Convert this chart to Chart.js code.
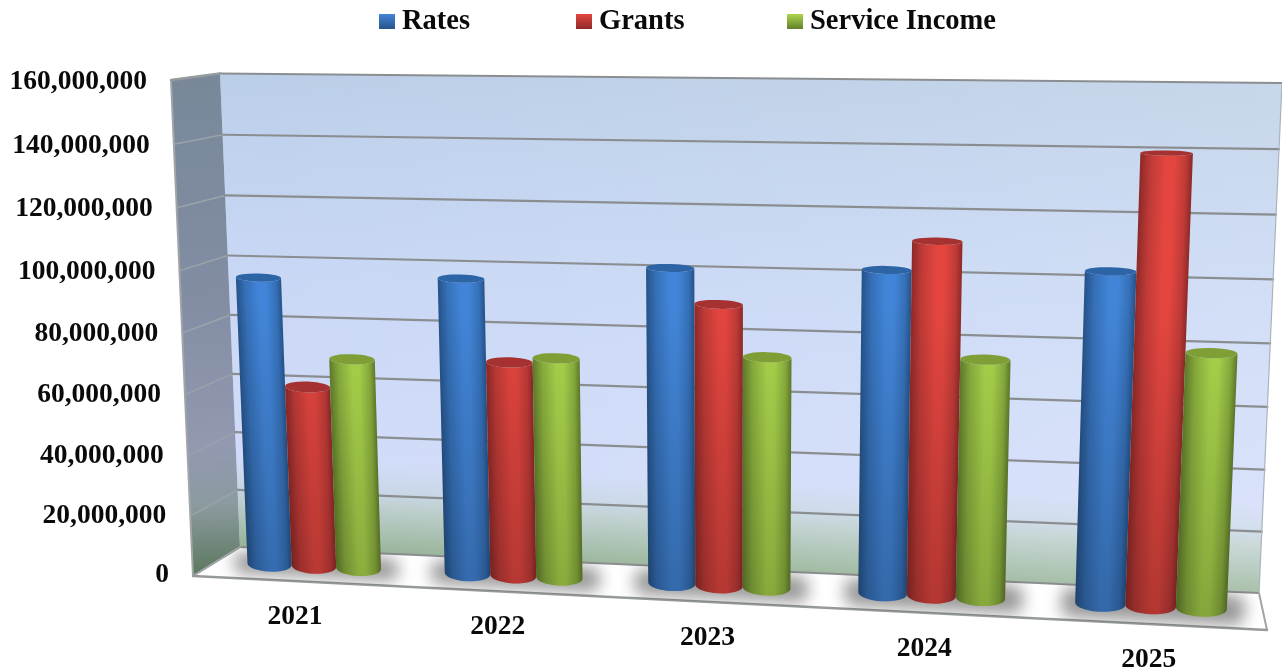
<!DOCTYPE html>
<html>
<head>
<meta charset="utf-8">
<style>
  html, body { margin: 0; padding: 0; background: #fff; }
  canvas { display: block; }
</style>
<script src="https://cdn.jsdelivr.net/npm/chart.js@4"></script>
</head>
<body>
<canvas id="chart" width="1282" height="670"></canvas>
<script>
const years = ['2021', '2022', '2023', '2024', '2025'];
const rates = [95700000, 97000000, 102000000, 103000000, 104200000];
const grants = [60200000, 70400000, 90900000, 112200000, 140100000];
const serviceIncome = [69800000, 72200000, 74600000, 75900000, 80000000];
const tickStep = 20000000;
const axisMax = 160000000;

// [edge, mid, bright, cap]
const bluePalette = ['#265389', '#3570b8', '#4285d8', '#2d64a6'];
const redPalette = ['#8f2a28', '#bf3a37', '#e4463f', '#a53230'];
const greenPalette = ['#637f2c', '#8bb03e', '#abd64c', '#7f9f36'];

const FONT = '"Liberation Serif", "DejaVu Serif", serif';

// the picture's 3D box, as corners [topLeft, topRight, bottomRight, bottomLeft]
const backQuad = [[220, 73.5], [1282, 83], [1259, 593], [240, 547]];
const frontQuad = [[171, 80], [1291, 91], [1267, 630], [193, 576]];
const barQuad = backQuad.map((p, i) => [(p[0] + frontQuad[i][0]) / 2, (p[1] + frontQuad[i][1]) / 2]);

// unit square -> quad, s goes left to right and t goes bottom to top
function quadMap(q) {
  const [x0, y0] = q[0], [x1, y1] = q[1], [x2, y2] = q[2], [x3, y3] = q[3];
  const dx1 = x1 - x2, dx2 = x3 - x2, sx = x0 - x1 + x2 - x3;
  const dy1 = y1 - y2, dy2 = y3 - y2, sy = y0 - y1 + y2 - y3;
  const det = dx1 * dy2 - dx2 * dy1;
  const g = (sx * dy2 - dx2 * sy) / det;
  const h = (dx1 * sy - sx * dy1) / det;
  const a = x1 - x0 + g * x1, b = x3 - x0 + h * x3;
  const d = y1 - y0 + g * y1, e = y3 - y0 + h * y3;
  return function (s, t) {
    const u = s, v = 1 - t;
    const w = g * u + h * v + 1;
    return [(a * u + b * v + x0) / w, (d * u + e * v + y0) / w];
  };
}

const onBack = quadMap(backQuad);
const onFront = quadMap(frontQuad);
const onBars = quadMap(barQuad);

function polygon(ctx, pts) {
  ctx.beginPath();
  pts.forEach((p, i) => (i ? ctx.lineTo(p[0], p[1]) : ctx.moveTo(p[0], p[1])));
  ctx.closePath();
}

function line(ctx, a, b) {
  ctx.beginPath();
  ctx.moveTo(a[0], a[1]);
  ctx.lineTo(b[0], b[1]);
  ctx.stroke();
}

function drawWalls(ctx, tickFractions) {
  const bl = backQuad[3], br = backQuad[2], tl = backQuad[0], tr = backQuad[1];
  const fl = frontQuad[3], fr = frontQuad[2], ftl = frontQuad[0];

  // back wall
  let grad = ctx.createLinearGradient(760, 78, 738, 572);
  grad.addColorStop(0, '#bacde6');
  grad.addColorStop(0.22, '#c1d3ef');
  grad.addColorStop(0.5, '#cad8f6');
  grad.addColorStop(0.815, '#d0dbf9');
  grad.addColorStop(0.87, '#c8d6e6');
  grad.addColorStop(0.9, '#bdcfcf');
  grad.addColorStop(1, '#93b193');
  ctx.fillStyle = grad;
  polygon(ctx, [tl, tr, br, bl]);
  ctx.fill();

  // right side of the wall is a little paler
  grad = ctx.createLinearGradient(240, 0, 1282, 0);
  grad.addColorStop(0, 'rgba(255,255,255,0)');
  grad.addColorStop(1, 'rgba(255,255,255,0.2)');
  ctx.fillStyle = grad;
  polygon(ctx, [tl, tr, br, bl]);
  ctx.fill();

  // left wall
  grad = ctx.createLinearGradient(200, 76, 218, 570);
  grad.addColorStop(0, '#788899');
  grad.addColorStop(0.45, '#828da3');
  grad.addColorStop(0.75, '#9299b1');
  grad.addColorStop(0.87, '#8b9a9f');
  grad.addColorStop(1, '#5f7a62');
  ctx.fillStyle = grad;
  polygon(ctx, [ftl, tl, bl, fl]);
  ctx.fill();

  // floor
  ctx.fillStyle = '#fff';
  polygon(ctx, [bl, br, fr, fl]);
  ctx.fill();

  // grid lines on both walls
  ctx.lineCap = 'round';
  tickFractions.forEach(t => {
    const back0 = onBack(0, t), back1 = onBack(1, t), front0 = onFront(0, t);
    ctx.strokeStyle = '#9aa3aa';
    ctx.lineWidth = 1.5;
    line(ctx, front0, back0);
    ctx.strokeStyle = '#8b8e90';
    ctx.lineWidth = 2.2;
    line(ctx, back0, back1);
  });

  // outline
  ctx.strokeStyle = '#a2a5a8';
  ctx.lineWidth = 2;
  line(ctx, ftl, fl);
  line(ctx, bl, fl);
  line(ctx, br, fr);
  ctx.strokeStyle = '#aab3bd';
  ctx.lineWidth = 1.2;
  line(ctx, tr, br);
  ctx.strokeStyle = '#969a9c';
  ctx.lineWidth = 2.4;
  line(ctx, fl, fr);
  line(ctx, ftl, tl);
}

function drawFloorShadows(ctx, chart, toUnit) {
  const first = chart.getDatasetMeta(0).data;
  const last = chart.getDatasetMeta(2).data;
  ctx.save();
  polygon(ctx, [backQuad[3], backQuad[2], frontQuad[2], frontQuad[3]]);
  ctx.clip();
  ctx.filter = 'blur(8px)';
  ctx.fillStyle = 'rgba(50,50,50,0.5)';
  first.forEach((el, i) => {
    const a = toUnit(el.x - el.width / 2, el.base);
    const b = toUnit(last[i].x + last[i].width / 2, el.base);
    const p0 = onBars(a[0], 0), p1 = onBars(b[0], 0);
    const halfW = (p1[0] - p0[0]) / 2 + 16;
    const halfH = 11 + 5 * a[0];
    ctx.save();
    ctx.translate((p0[0] + p1[0]) / 2 + 2, (p0[1] + p1[1]) / 2);
    ctx.rotate(Math.atan2(p1[1] - p0[1], p1[0] - p0[0]));
    ctx.beginPath();
    ctx.roundRect(-halfW, -halfH, halfW * 2, halfH * 2, 10);
    ctx.fill();
    ctx.restore();
  });
  ctx.restore();
}

function capHeight(y) {
  return 2 + Math.max(0, y - 100) * 0.012;
}

function drawCylinder(ctx, el, palette, toUnit) {
  const left = toUnit(el.x - el.width / 2, el.y);
  const right = toUnit(el.x + el.width / 2, el.y);
  const lt = onBars(left[0], left[1]), rt = onBars(right[0], left[1]);
  const lb = onBars(left[0], 0), rb = onBars(right[0], 0);
  const top = [(lt[0] + rt[0]) / 2, (lt[1] + rt[1]) / 2];
  const bot = [(lb[0] + rb[0]) / 2, (lb[1] + rb[1]) / 2];
  const topR = Math.hypot(rt[0] - lt[0], rt[1] - lt[1]) / 2;
  const botR = Math.hypot(rb[0] - lb[0], rb[1] - lb[1]) / 2;
  const topRot = Math.atan2(rt[1] - lt[1], rt[0] - lt[0]);
  const botRot = Math.atan2(rb[1] - lb[1], rb[0] - lb[0]);

  const body = () => {
    ctx.beginPath();
    ctx.moveTo(lt[0], lt[1]);
    ctx.lineTo(lb[0], lb[1]);
    ctx.ellipse(bot[0], bot[1], botR, capHeight(bot[1]), botRot, Math.PI, 0, true);
    ctx.lineTo(rt[0], rt[1]);
    ctx.ellipse(top[0], top[1], topR, capHeight(top[1]), topRot, 0, Math.PI, false);
    ctx.closePath();
  };

  // shading runs across the leaning axis of the cylinder
  const ax = top[0] - bot[0], ay = top[1] - bot[1];
  const len = Math.hypot(ax, ay);
  const px = -ay / len, py = ax / len;
  const mx = (lt[0] + lb[0]) / 2, my = (lt[1] + lb[1]) / 2;
  const w = topR + botR;
  const grad = ctx.createLinearGradient(mx, my, mx + px * w, my + py * w);
  grad.addColorStop(0, palette[0]);
  grad.addColorStop(0.2, palette[1]);
  grad.addColorStop(0.5, palette[2]);
  grad.addColorStop(0.65, palette[2]);
  grad.addColorStop(0.88, palette[1]);
  grad.addColorStop(1, palette[0]);
  body();
  ctx.fillStyle = grad;
  ctx.fill();

  // everything gets darker toward the floor
  const dark = ctx.createLinearGradient(0, 300, 0, 610);
  dark.addColorStop(0, 'rgba(0,0,0,0)');
  dark.addColorStop(1, 'rgba(0,0,0,0.22)');
  body();
  ctx.fillStyle = dark;
  ctx.fill();

  ctx.beginPath();
  ctx.ellipse(top[0], top[1], topR, capHeight(top[1]), topRot, 0, Math.PI * 2);
  ctx.fillStyle = palette[3];
  ctx.fill();
}

function drawText(ctx, chart, toUnit) {
  ctx.fillStyle = '#0a0a0a';
  ctx.font = 'bold 27.5px ' + FONT;

  // value axis follows the front edge of the left wall
  const yScale = chart.scales.y;
  ctx.textAlign = 'right';
  ctx.textBaseline = 'middle';
  yScale.ticks.forEach((tick, i) => {
    const t = toUnit(0, yScale.getPixelForTick(i))[1];
    const p = onFront(0, t);
    ctx.fillText(tick.value.toLocaleString('en-US'), p[0] - 24, p[1] - 1 + 3 * t);
  });

  // year labels hang under the front edge of the floor
  const xScale = chart.scales.x;
  ctx.textAlign = 'center';
  years.forEach((year, i) => {
    const s = toUnit(xScale.getPixelForTick(i), 0)[0];
    const p = onFront(s, 0);
    ctx.fillText(year, p[0] + 3 - 6 * s, p[1] + 36);
  });

  // legend
  const legendX = [379, 576, 787];
  ctx.textAlign = 'left';
  ctx.textBaseline = 'alphabetic';
  ctx.font = 'bold 28.5px ' + FONT;
  chart.data.datasets.forEach((ds, i) => {
    const grad = ctx.createLinearGradient(0, 14, 0, 29);
    grad.addColorStop(0, ds.palette[2]);
    grad.addColorStop(1, ds.palette[0]);
    ctx.fillStyle = grad;
    ctx.fillRect(legendX[i], 14, 16, 15);
    ctx.fillStyle = '#0a0a0a';
    ctx.fillText(ds.label, legendX[i] + 23, 29);
  });
}

const box3d = {
  id: 'box3d',
  beforeDatasetsDraw(chart) {
    const ctx = chart.ctx;
    const area = chart.chartArea;
    const toUnit = (x, y) => [(x - area.left) / area.width, (area.bottom - y) / area.height];
    const yScale = chart.scales.y;
    const fractions = yScale.ticks.map((tick, i) => toUnit(0, yScale.getPixelForTick(i))[1]);

    ctx.save();
    drawWalls(ctx, fractions);
    drawFloorShadows(ctx, chart, toUnit);
    chart.data.datasets.forEach((ds, d) => {
      chart.getDatasetMeta(d).data.forEach(el => drawCylinder(ctx, el, ds.palette, toUnit));
    });
    drawText(ctx, chart, toUnit);
    ctx.restore();
    return false; // the cylinders replace the flat bars
  }
};

new Chart(document.getElementById('chart'), {
  type: 'bar',
  data: {
    labels: years,
    datasets: [
      { label: 'Rates', data: rates, backgroundColor: bluePalette[1], palette: bluePalette },
      { label: 'Grants', data: grants, backgroundColor: redPalette[1], palette: redPalette },
      { label: 'Service Income', data: serviceIncome, backgroundColor: greenPalette[1], palette: greenPalette }
    ]
  },
  options: {
    responsive: false,
    animation: false,
    events: [],
    datasets: { bar: { categoryPercentage: 0.68, barPercentage: 1 } },
    plugins: { legend: { display: false }, tooltip: { enabled: false } },
    scales: {
      x: { display: false },
      y: { display: false, min: 0, max: axisMax, ticks: { stepSize: tickStep } }
    }
  },
  plugins: [box3d]
});
</script>
</body>
</html>
